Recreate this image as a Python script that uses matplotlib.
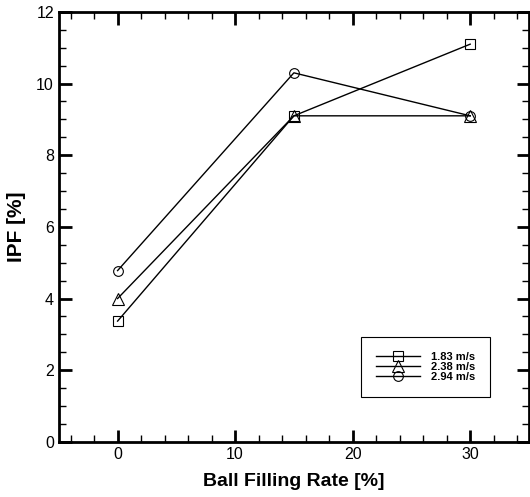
import matplotlib
matplotlib.use("Agg")
import matplotlib.pyplot as plt
from matplotlib.ticker import MultipleLocator

plt.rcParams['font.family'] = ['Liberation Sans', 'DejaVu Sans']

# Data
ball_rate = [0, 15, 30]
ipf_183 = [3.37, 9.1, 11.1]
ipf_238 = [4.0, 9.1, 9.1]
ipf_294 = [4.78, 10.3, 9.1]

fig = plt.figure(figsize=(5.3, 4.97), dpi=100)
ax = fig.add_axes([0.111, 0.111, 0.887, 0.865])

ax.plot(ball_rate, ipf_183, color='black', lw=1, marker='s', ms=7,
        mfc='none', mec='black', mew=0.8, label='1.83 m/s')
ax.plot(ball_rate, ipf_238, color='black', lw=1, marker='^', ms=8,
        mfc='none', mec='black', mew=0.8, label='2.38 m/s')
ax.plot(ball_rate, ipf_294, color='black', lw=1, marker='o', ms=7,
        mfc='none', mec='black', mew=0.8, label='2.94 m/s')

ax.set_xlim(-5, 35)
ax.set_ylim(0, 12)
ax.xaxis.set_major_locator(MultipleLocator(10))
ax.xaxis.set_minor_locator(MultipleLocator(2))
ax.yaxis.set_major_locator(MultipleLocator(2))
ax.yaxis.set_minor_locator(MultipleLocator(0.5))

ax.tick_params(which='both', direction='in', top=True, right=True,
               labelsize=11.5, width=1)
ax.tick_params(which='major', length=9, width=2)
ax.tick_params(which='minor', length=5)
for s in ax.spines.values():
    s.set_linewidth(2)

ax.set_xlabel('Ball Filling Rate [%]', fontsize=14, fontweight='bold', labelpad=8)
ax.set_ylabel('IPF [%]', fontsize=15, fontweight='bold', labelpad=7)

leg = ax.legend(loc='lower right', bbox_to_anchor=(0.917, 0.105),
                borderaxespad=0, prop={'size': 8, 'weight': 'bold'},
                fancybox=False, edgecolor='black', handlelength=4.0,
                handletextpad=1.0, borderpad=1.3, labelspacing=0.03,
                framealpha=1)
leg.get_frame().set_linewidth(0.8)

fig.savefig('out.png', dpi=100)
